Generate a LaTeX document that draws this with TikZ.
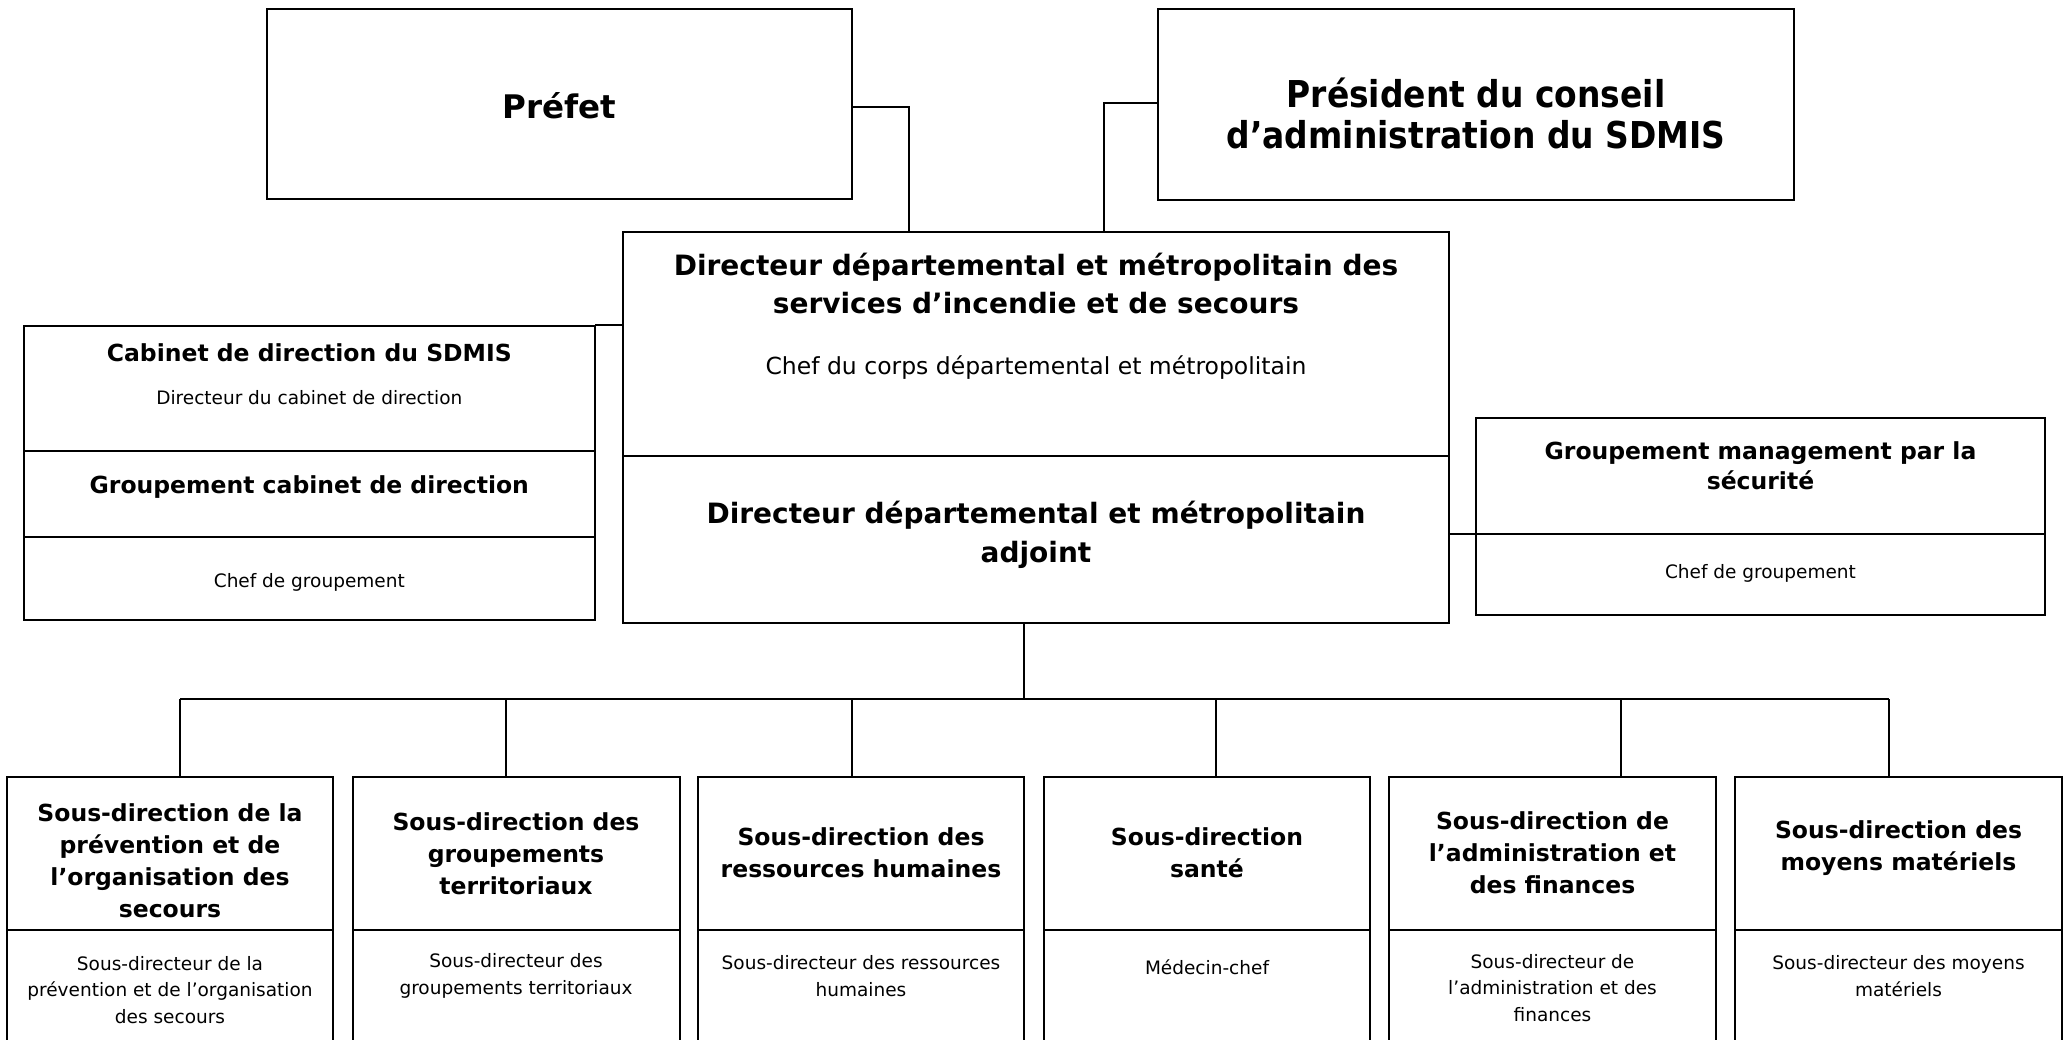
\documentclass[tikz,border=0pt]{standalone}
\usepackage{fontspec}
\setmainfont{DejaVu Sans}
\newfontfamily\presfont{DejaVu Sans}[FakeStretch=0.89]
\usetikzlibrary{calc}
\tikzset{
  box/.style={draw, line width=2.2pt, anchor=north west, inner sep=0pt, outer sep=0pt},
  divline/.style={line width=2.2pt},
  conn/.style={line width=2pt},
  ttl/.style={align=center, inner sep=0pt, font=\bfseries\fontsize{23.5}{32}\selectfont},
  sub/.style={align=center, inner sep=0pt, font=\fontsize{18.5}{26.5}\selectfont},
}
\begin{document}
\begin{tikzpicture}[x=1pt,y=-1pt]
\useasboundingbox (0,0) rectangle (2067,1040);
\fill[white] (0,0) rectangle (2067,1040);

% boxes
\node[box, minimum width=585pt, minimum height=190pt] (prefet) at (267,9) {};
\node[box, minimum width=636pt, minimum height=191pt] (pres) at (1158,9) {};
\node[box, minimum width=826pt, minimum height=391pt] (dir) at (623,232) {};
\node[box, minimum width=571pt, minimum height=294pt] (cab) at (24,326) {};
\node[box, minimum width=569pt, minimum height=197pt] (gms) at (1476,418) {};
\node[box, minimum width=326pt, minimum height=275pt] (b1) at (7,777) {};
\node[box, minimum width=327pt, minimum height=275pt] (b2) at (353,777) {};
\node[box, minimum width=326pt, minimum height=275pt] (b3) at (698,777) {};
\node[box, minimum width=326pt, minimum height=275pt] (b4) at (1044,777) {};
\node[box, minimum width=327pt, minimum height=275pt] (b5) at (1389,777) {};
\node[box, minimum width=327pt, minimum height=275pt] (b6) at (1735,777) {};

% dividers
\draw[divline] ($(dir.north west)+(0,224)$) -- ($(dir.north east)+(0,224)$);
\draw[divline] ($(cab.north west)+(0,125)$) -- ($(cab.north east)+(0,125)$);
\draw[divline] ($(cab.north west)+(0,211)$) -- ($(cab.north east)+(0,211)$);
\draw[divline] ($(gms.north west)+(0,116)$) -- ($(gms.north east)+(0,116)$);
\foreach \i in {1,...,6}{
  \draw[divline] ($(b\i.north west)+(0,153)$) -- ($(b\i.north east)+(0,153)$);
}

% connectors
\coordinate (pj) at (909,107);
\draw[conn] (prefet.east |- pj) -- (pj) -- (pj |- dir.north);
\coordinate (qj) at (1104,103);
\draw[conn] (pres.west |- qj) -- (qj) -- (qj |- dir.north);
\coordinate (cj) at (609,325);
\draw[conn] (cab.east |- cj) -- (dir.west |- cj);
\coordinate (gj) at (1462,534);
\draw[conn] (dir.east |- gj) -- (gms.west |- gj);
\coordinate (bt) at (1024,699);
\draw[conn] (bt |- dir.south) -- (bt);
\coordinate (d1) at (180,699);
\coordinate (d2) at (506,699);
\coordinate (d3) at (852,699);
\coordinate (d4) at (1216,699);
\coordinate (d5) at (1621,699);
\coordinate (d6) at (1889,699);
\draw[conn] (d1) -- (d6);
\foreach \i in {1,...,6}{
  \draw[conn] (d\i) -- (d\i |- b\i.north);
}

% texts
\node[inner sep=0pt, font=\bfseries\fontsize{32.5}{39}\selectfont] (tprefet) at (559.5,106) {Préfet};
\node[inner sep=0pt, align=center, font=\presfont\bfseries\fontsize{37}{41}\selectfont] (tpres) at (1476,113) {Président du conseil\\d’administration du SDMIS};

\node[inner sep=0pt, align=center, font=\bfseries\fontsize{28}{38}\selectfont] (tdir) at (1036,284) {Directeur départemental et métropolitain des\\services d’incendie et de secours};
\node[inner sep=0pt, font=\fontsize{23.5}{30}\selectfont] (tdirs) at (1036,368) {Chef du corps départemental et métropolitain};
\node[inner sep=0pt, align=center, font=\bfseries\fontsize{28}{39}\selectfont] (tadj) at (1036,535) {Directeur départemental et métropolitain\\adjoint};

\node[ttl] (tcab) at (309.3,353) {Cabinet de direction du SDMIS};
\node[sub] (tcabs) at (309.3,398) {Directeur du cabinet de direction};
\node[ttl] (tgcd) at (309.3,487) {Groupement cabinet de direction};
\node[sub] (tgcds) at (309.3,582) {Chef de groupement};

\node[ttl, font=\bfseries\fontsize{23.5}{30}\selectfont] (tgms) at (1760.5,466) {Groupement management par la\\sécurité};
\node[sub] (tgmss) at (1760.5,573) {Chef de groupement};

\node[ttl] (tb1) at (170,860.5) {Sous-direction de la\\prévention et de\\l’organisation des\\secours};
\node[sub] (sb1) at (170,990) {Sous-directeur de la\\prévention et de l’organisation\\des secours};
\node[ttl] (tb2) at (516,853.5) {Sous-direction des\\groupements\\territoriaux};
\node[sub] (sb2) at (516,976) {Sous-directeur des\\groupements territoriaux};
\node[ttl] (tb3) at (861,852.5) {Sous-direction des\\ressources humaines};
\node[sub] (sb3) at (861,976) {Sous-directeur des ressources\\humaines};
\node[ttl] (tb4) at (1207,852.5) {Sous-direction\\santé};
\node[sub] (sb4) at (1207,967) {Médecin-chef};
\node[ttl] (tb5) at (1552.5,853) {Sous-direction de\\l’administration et\\des finances};
\node[sub] (sb5) at (1552.5,988) {Sous-directeur de\\l’administration et des\\finances};
\node[ttl] (tb6) at (1898.5,848) {Sous-direction des\\moyens matériels};
\node[sub] (sb6) at (1898.5,976) {Sous-directeur des moyens\\matériels};
\end{tikzpicture}
\end{document}
